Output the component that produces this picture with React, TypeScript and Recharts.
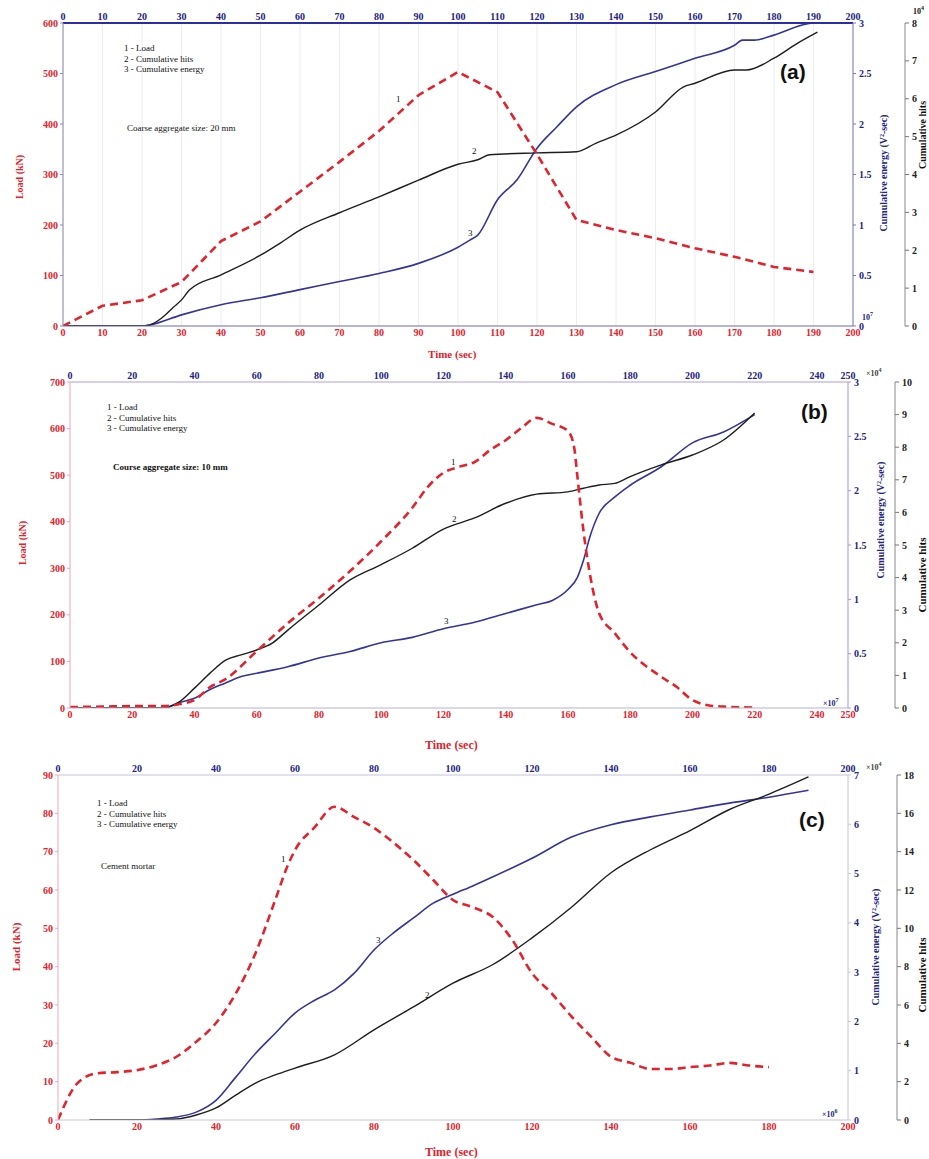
import React from 'react';
import { LineChart, Line, XAxis, YAxis, CartesianGrid } from 'recharts';

// ---- panel (a): coarse aggregate 20 mm ----
const loadTimeA = [0, 10, 20, 30, 40, 50, 60, 70, 80, 90, 100, 110, 120, 130, 140, 150, 160, 170, 180, 190];
const loadA = [0, 40, 51, 87, 168, 207, 266, 325, 386, 457, 503, 463, 340, 210, 190, 174, 154, 137, 117, 107];
const hitsTimeA = [0, 20, 22, 25, 28, 30, 32, 40, 50, 55, 60, 70, 80, 90, 100, 105, 108, 120, 130, 135, 140, 150, 157, 160, 170, 173, 180, 186, 191];
const hitsA = [0, 0, 0.03, 0.21, 0.5, 0.69, 0.95, 1.35, 1.87, 2.19, 2.53, 2.99, 3.41, 3.85, 4.27, 4.39, 4.52, 4.57, 4.6, 4.83, 5.04, 5.65, 6.31, 6.41, 6.76, 6.76, 7.07, 7.47, 7.76];
const energyTimeA = [0, 20, 22, 30, 40, 50, 60, 70, 80, 90, 100, 103, 105, 110, 115, 120, 125, 130, 140, 150, 160, 170, 172, 175, 180, 190, 195];
const energyA = [0, 0, 0.01, 0.11, 0.21, 0.28, 0.36, 0.44, 0.52, 0.62, 0.78, 0.85, 0.9, 1.25, 1.45, 1.76, 1.97, 2.17, 2.39, 2.52, 2.65, 2.78, 2.83, 2.83, 2.88, 3.0, 3.0];

// ---- panel (b): coarse aggregate 10 mm ----
const loadTimeB = [0, 10, 20, 30, 35, 40, 45, 50, 60, 70, 80, 90, 100, 110, 115, 120, 125, 130, 135, 140, 145, 150, 155, 160, 162, 163, 165, 167, 170, 175, 180, 190, 195, 200, 205, 210, 220];
const loadB = [2, 3, 4, 4, 8, 17, 45, 62, 122, 182, 236, 294, 358, 430, 475, 505, 518, 528, 554, 575, 601, 623, 610, 595, 560, 500, 380, 290, 204, 161, 120, 67, 45, 17, 6, 3, 1];
const hitsTimeB = [0, 30, 35, 40, 45, 50, 55, 60, 65, 70, 80, 90, 100, 110, 120, 130, 140, 150, 160, 165, 170, 175, 180, 190, 200, 210, 220];
const hitsB = [0, 0, 0.18, 0.61, 1.07, 1.47, 1.63, 1.78, 1.99, 2.39, 3.16, 3.93, 4.4, 4.9, 5.49, 5.83, 6.28, 6.56, 6.63, 6.74, 6.84, 6.89, 7.1, 7.46, 7.76, 8.22, 9.05];
const energyTimeB = [0, 30, 35, 40, 45, 50, 55, 60, 70, 80, 90, 100, 110, 120, 130, 140, 150, 155, 160, 163, 165, 167, 170, 175, 180, 190, 200, 210, 220];
const energyB = [0, 0, 0.05, 0.09, 0.17, 0.23, 0.29, 0.32, 0.38, 0.46, 0.52, 0.6, 0.65, 0.73, 0.79, 0.87, 0.95, 0.99, 1.09, 1.2, 1.36, 1.57, 1.79, 1.94, 2.05, 2.22, 2.44, 2.54, 2.7];

// ---- panel (c): cement mortar ----
const loadTimeC = [0, 5, 10, 15, 20, 25, 30, 35, 40, 45, 50, 55, 58, 60, 65, 70, 75, 80, 85, 90, 95, 100, 105, 110, 115, 120, 125, 130, 135, 140, 145, 150, 155, 160, 165, 170, 175, 180];
const loadC = [0, 9.7, 12.2, 12.5, 13, 14.3, 16.5, 20.4, 25.3, 33, 43.5, 57.4, 66, 70.4, 76.4, 81.7, 79, 76.2, 72.3, 67.8, 62.6, 57.4, 55.5, 53, 47, 38.3, 33, 27, 21.7, 16.5, 14.9, 13.3, 13.3, 13.8, 14.2, 14.9, 14.2, 13.8];
const hitsTimeC = [8, 20, 30, 35, 40, 45, 50, 55, 60, 70, 80, 90, 100, 110, 120, 130, 140, 150, 160, 170, 180, 190];
const hitsC = [0, 0, 0.05, 0.26, 0.63, 1.3, 1.93, 2.35, 2.71, 3.4, 4.7, 5.9, 7.14, 8.1, 9.5, 11.1, 12.9, 14.1, 15.1, 16.2, 17, 17.9];
const energyTimeC = [8, 20, 25, 30, 35, 40, 45, 50, 55, 60, 65, 70, 75, 80, 85, 90, 95, 100, 105, 110, 120, 130, 140, 150, 160, 170, 180, 190];
const energyC = [0, 0, 0.02, 0.06, 0.16, 0.4, 0.87, 1.35, 1.76, 2.17, 2.43, 2.64, 2.98, 3.45, 3.8, 4.1, 4.4, 4.58, 4.75, 4.93, 5.31, 5.74, 5.99, 6.15, 6.29, 6.43, 6.55, 6.69];

// axis ticks
const timeTicksA = [0, 10, 20, 30, 40, 50, 60, 70, 80, 90, 100, 110, 120, 130, 140, 150, 160, 170, 180, 190, 200];
const timeTicksB = [0, 20, 40, 60, 80, 100, 120, 140, 160, 180, 200, 220, 240, 250];
const timeTicksC = [0, 20, 40, 60, 80, 100, 120, 140, 160, 180, 200];
const loadTicksA = [0, 100, 200, 300, 400, 500, 600];
const loadTicksB = [0, 100, 200, 300, 400, 500, 600, 700];
const loadTicksC = [0, 10, 20, 30, 40, 50, 60, 70, 80, 90];
const energyTicksAB = [0, 0.5, 1, 1.5, 2, 2.5, 3];
const energyTicksC = [0, 1, 2, 3, 4, 5, 6, 7];
const hitsTicksA = [0, 1, 2, 3, 4, 5, 6, 7, 8];
const hitsTicksB = [0, 1, 2, 3, 4, 5, 6, 7, 8, 9, 10];
const hitsTicksC = [0, 2, 4, 6, 8, 10, 12, 14, 16, 18];

const legendLines = ['1 -  Load', '2 -  Cumulative hits', '3 -  Cumulative energy'];

const RED = '#e3222b';
const NAVY = '#24247e';
const BLUE_LINE = '#34349a';
const SERIF = '"Liberation Serif", "DejaVu Serif", serif';

const zip = (ts: number[], vs: number[]) => ts.map((t, i) => ({ t, v: vs[i] }));

const tickFont = (fill: string) => ({ fill, fontSize: 10, fontWeight: 'bold' as const, fontFamily: SERIF });

function Txt({ x, y, children, style }: { x: number; y: number; children: React.ReactNode; style?: React.CSSProperties }) {
  return (
    <div style={{ position: 'absolute', left: x, top: y, whiteSpace: 'nowrap', fontFamily: SERIF, fontSize: 9, color: '#111', lineHeight: 1, ...style }}>
      {children}
    </div>
  );
}

function VTxt({ cx, cy, children, color, size = 10 }: { cx: number; cy: number; children: React.ReactNode; color: string; size?: number }) {
  return (
    <div
      style={{
        position: 'absolute', left: cx, top: cy, transform: 'translate(-50%, -50%) rotate(-90deg)',
        whiteSpace: 'nowrap', fontFamily: SERIF, fontSize: size, fontWeight: 'bold', color, lineHeight: 1,
      }}
    >
      {children}
    </div>
  );
}

interface PanelProps {
  top: number;
  height: number;
  left: number; // width of load axis
  energyW: number;
  hitsW: number;
  timeMax: number;
  timeTicks: number[];
  loadMax: number;
  loadTicks: number[];
  energyMax: number;
  energyTicks: number[];
  hitsMax: number;
  hitsTicks: number[];
  load: { t: number; v: number }[];
  hits: { t: number; v: number }[];
  energy: { t: number; v: number }[];
  frame: { left: string; top: string; bottom: string; right: string; topWidth: number };
  grid?: boolean;
  loadCurve?: 'linear' | 'monotone';
}

function Panel(p: PanelProps) {
  return (
    <div style={{ position: 'absolute', left: 0, top: p.top }}>
      <LineChart width={929} height={p.height} margin={{ top: 0, right: 0, bottom: 0, left: 0 }}>
        {p.grid && (
          <CartesianGrid xAxisId="bottom" yAxisId="load" horizontal={false} stroke="#ececf4" />
        )}
        <XAxis
          xAxisId="bottom" type="number" dataKey="t" domain={[0, p.timeMax]} ticks={p.timeTicks}
          allowDataOverflow height={22} tick={tickFont(RED)} tickLine={false} tickSize={2} tickMargin={1}
          axisLine={{ stroke: p.frame.bottom }} interval={0}
        />
        <XAxis
          xAxisId="top" orientation="top" type="number" dataKey="t" domain={[0, p.timeMax]} ticks={p.timeTicks}
          allowDataOverflow height={22} tick={tickFont(NAVY)} tickLine={false} tickSize={2} tickMargin={1}
          axisLine={{ stroke: p.frame.top, strokeWidth: p.frame.topWidth }} interval={0}
        />
        <YAxis
          yAxisId="load" type="number" domain={[0, p.loadMax]} ticks={p.loadTicks} allowDataOverflow
          width={p.left} tick={tickFont(RED)} tickLine={{ stroke: p.frame.left }} tickSize={3} tickMargin={2}
          axisLine={{ stroke: p.frame.left }} interval={0}
        />
        <YAxis
          yAxisId="energy" orientation="right" type="number" domain={[0, p.energyMax]} ticks={p.energyTicks}
          allowDataOverflow width={p.energyW} tick={tickFont(NAVY)} tickLine={{ stroke: p.frame.right }}
          tickSize={3} tickMargin={3} axisLine={{ stroke: p.frame.right }} interval={0}
        />
        <YAxis
          yAxisId="hits" orientation="right" type="number" domain={[0, p.hitsMax]} ticks={p.hitsTicks}
          allowDataOverflow width={p.hitsW} tick={tickFont('#222')} tickLine={{ stroke: '#777' }}
          tickSize={4} tickMargin={3} axisLine={{ stroke: '#888' }} interval={0}
        />
        <Line
          data={p.energy} dataKey="v" xAxisId="bottom" yAxisId="energy" type="monotone"
          stroke={BLUE_LINE} strokeWidth={1.6} dot={false} isAnimationActive={false}
        />
        <Line
          data={p.hits} dataKey="v" xAxisId="bottom" yAxisId="hits" type="monotone"
          stroke="#1e1e1e" strokeWidth={1.4} dot={false} isAnimationActive={false}
        />
        <Line
          data={p.load} dataKey="v" xAxisId="bottom" yAxisId="load" type={p.loadCurve ?? 'monotone'}
          stroke={RED} strokeWidth={2.6} strokeDasharray="8 5" dot={false} isAnimationActive={false}
        />
      </LineChart>
    </div>
  );
}

function Legend({ x, y }: { x: number; y: number }) {
  return (
    <>
      {legendLines.map((s, i) => (
        <Txt key={s} x={x} y={y + i * 10.5}>{s}</Txt>
      ))}
    </>
  );
}

const letterStyle: React.CSSProperties = { fontFamily: '"Liberation Sans", Arial, sans-serif', fontSize: 21, fontWeight: 'bold', color: '#111' };
const multStyle = (color: string): React.CSSProperties => ({ fontSize: 8, fontWeight: 'bold', color });

export default function App() {
  return (
    <div style={{ position: 'absolute', left: 0, top: 0, width: 929, height: 1159, background: '#fff', overflow: 'hidden' }}>
      {/* (a) plot x 63-853, y 23-326 */}
      <Panel
        top={1} height={347} left={63} energyW={52} hitsW={24}
        timeMax={200} timeTicks={timeTicksA} loadMax={600} loadTicks={loadTicksA}
        energyMax={3} energyTicks={energyTicksAB} hitsMax={8} hitsTicks={hitsTicksA}
        load={zip(loadTimeA, loadA)} hits={zip(hitsTimeA, hitsA)} energy={zip(energyTimeA, energyA)}
        frame={{ left: '#8a8ab0', top: '#2c2ca8', bottom: '#6a6ab8', right: '#7a7ac0', topWidth: 2 }}
        grid loadCurve="linear"
      />
      {/* (b) plot x 70-848, y 382-708 */}
      <Panel
        top={360} height={370} left={70} energyW={47} hitsW={34}
        timeMax={250} timeTicks={timeTicksB} loadMax={700} loadTicks={loadTicksB}
        energyMax={3} energyTicks={energyTicksAB} hitsMax={10} hitsTicks={hitsTicksB}
        load={zip(loadTimeB, loadB)} hits={zip(hitsTimeB, hitsB)} energy={zip(energyTimeB, energyB)}
        frame={{ left: '#f0a4b4', top: '#ac9ee0', bottom: '#b4b4cc', right: '#a694dc', topWidth: 1 }}
      />
      {/* (c) plot x 58-848, y 775-1120 */}
      <Panel
        top={753} height={389} left={58} energyW={49} hitsW={32}
        timeMax={200} timeTicks={timeTicksC} loadMax={90} loadTicks={loadTicksC}
        energyMax={7} energyTicks={energyTicksC} hitsMax={18} hitsTicks={hitsTicksC}
        load={zip(loadTimeC, loadC)} hits={zip(hitsTimeC, hitsC)} energy={zip(energyTimeC, energyC)}
        frame={{ left: '#f0a8bc', top: '#c4c4dc', bottom: '#c4c4d4', right: '#c4c4dc', topWidth: 1 }}
      />

      {/* axis titles */}
      <VTxt cx={20} cy={177} color={RED}>Load (kN)</VTxt>
      <VTxt cx={884} cy={173} color={NAVY}>Cumulative energy (V²-sec)</VTxt>
      <VTxt cx={923} cy={135} color="#111">Cumulative hits</VTxt>
      <Txt x={428} y={349} style={{ color: RED, fontSize: 11, fontWeight: 'bold' }}>Time (sec)</Txt>

      <VTxt cx={23} cy={543} color={RED}>Load (kN)</VTxt>
      <VTxt cx={881} cy={520} color={NAVY}>Cumulative energy (V²-sec)</VTxt>
      <VTxt cx={922} cy={575} color="#111" size={11}>Cumulative hits</VTxt>
      <Txt x={425} y={739} style={{ color: RED, fontSize: 12, fontWeight: 'bold' }}>Time (sec)</Txt>

      <VTxt cx={16} cy={947} color={RED} size={11}>Load (kN)</VTxt>
      <VTxt cx={876} cy={947} color={NAVY}>Cumulative energy (V²-sec)</VTxt>
      <VTxt cx={922} cy={975} color="#111" size={11}>Cumulative hits</VTxt>
      <Txt x={425} y={1146} style={{ color: RED, fontSize: 12, fontWeight: 'bold' }}>Time (sec)</Txt>

      {/* scale multipliers */}
      <Txt x={913} y={5} style={multStyle('#111')}>10<sup style={{ fontSize: 6 }}>4</sup></Txt>
      <Txt x={862} y={311} style={multStyle(NAVY)}>10<sup style={{ fontSize: 6 }}>7</sup></Txt>
      <Txt x={866} y={367} style={multStyle('#444')}>×10<sup style={{ fontSize: 6 }}>4</sup></Txt>
      <Txt x={823} y={697} style={multStyle(NAVY)}>×10<sup style={{ fontSize: 6 }}>7</sup></Txt>
      <Txt x={866} y={761} style={multStyle('#444')}>×10<sup style={{ fontSize: 6 }}>4</sup></Txt>
      <Txt x={822} y={1108} style={multStyle(NAVY)}>×10<sup style={{ fontSize: 6 }}>6</sup></Txt>

      {/* panel letters */}
      <Txt x={780} y={61} style={letterStyle}>(a)</Txt>
      <Txt x={801} y={401} style={letterStyle}>(b)</Txt>
      <Txt x={799} y={809} style={letterStyle}>(c)</Txt>

      {/* in-plot notes */}
      <Legend x={124} y={44} />
      <Txt x={127} y={124}>Coarse aggregate size: 20 mm</Txt>
      <Legend x={107} y={403} />
      <Txt x={113} y={463} style={{ fontWeight: 'bold' }}>Course aggregate size: 10 mm</Txt>
      <Legend x={97} y={799} />
      <Txt x={101} y={862}>Cement mortar</Txt>

      {/* curve numbers */}
      <Txt x={396} y={95}>1</Txt>
      <Txt x={472} y={147}>2</Txt>
      <Txt x={468} y={229}>3</Txt>
      <Txt x={451} y={458}>1</Txt>
      <Txt x={452} y={515}>2</Txt>
      <Txt x={444} y={617}>3</Txt>
      <Txt x={281} y={855}>1</Txt>
      <Txt x={376} y={936}>3</Txt>
      <Txt x={425} y={991}>2</Txt>
    </div>
  );
}
